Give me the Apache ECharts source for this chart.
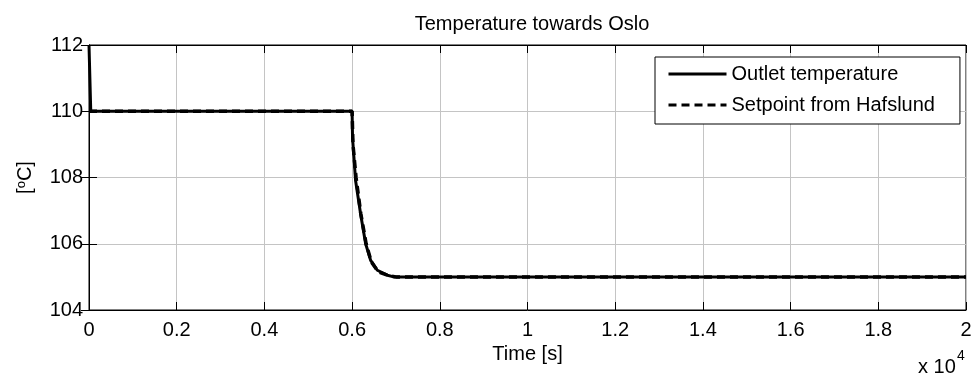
<!DOCTYPE html>
<html>
<head>
<meta charset="utf-8">
<script src="https://cdn.jsdelivr.net/npm/echarts@6/dist/echarts.min.js"></script>
<style>
html,body{margin:0;padding:0;background:#fff;}
#c{width:976px;height:381px;}
</style>
</head>
<body>
<div id="c"></div>
<script>
// Data (time in seconds, temperature in °C)
const outletTime = [0, 40, 6000, 6010, 6080, 6194, 6309, 6423, 6575, 6804, 6950, 20000];
const outletTemp = [112, 110, 110, 109.2, 107.9, 106.9, 106.0, 105.5, 105.2, 105.05, 105.0, 105.0];
const setpointTime = [0, 6000, 6020, 6090, 6200, 6320, 6440, 6600, 6850, 7000, 20000];
const setpointTemp = [110, 110, 109.0, 108.0, 106.9, 106.0, 105.45, 105.15, 105.03, 105.0, 105.0];
const seriesNames = ['Outlet temperature', 'Setpoint from Hafslund'];
const xTickValues = [0, 2000, 4000, 6000, 8000, 10000, 12000, 14000, 16000, 18000, 20000];
const yTickValues = [104, 106, 108, 110, 112];

const FONT = "'Liberation Sans', Arial, sans-serif";
const zip = (a, b) => a.map((v, i) => [v, b[i]]);

const chart = echarts.init(document.getElementById('c'), null, {renderer: 'canvas'});

const tickStyle = {show: true, inside: true, length: 8, lineStyle: {color: '#000', width: 1}};
const gridLine = {show: true, lineStyle: {color: '#c4c4c4', width: 1}};

chart.setOption({
  animation: false,
  backgroundColor: '#fff',
  textStyle: {fontFamily: FONT},
  title: {
    text: 'Temperature towards Oslo',
    left: 527, top: 9, textAlign: 'center',
    textStyle: {fontFamily: FONT, fontSize: 20, fontWeight: 'normal', color: '#000'}
  },
  grid: {left: 89, right: 10, top: 45, bottom: 71, show: true, borderColor: '#000', borderWidth: 1, backgroundColor: 'transparent'},
  legend: {
    orient: 'vertical', left: 655, top: 57,
    data: seriesNames,
    itemWidth: 58, itemHeight: 14, itemGap: 11,
    padding: [7, 25, 9, 12],
    borderColor: '#000', borderWidth: 1, backgroundColor: '#fff',
    itemStyle: {opacity: 0},
    lineStyle: {width: 3},
    textStyle: {fontFamily: FONT, fontSize: 20, color: '#000'}
  },
  xAxis: [{
    type: 'value', min: 0, max: 20000, interval: 2000,
    name: 'Time [s]', nameLocation: 'middle', nameGap: 34,
    nameTextStyle: {fontFamily: FONT, fontSize: 20, color: '#000'},
    axisLine: {show: true, lineStyle: {color: '#000'}},
    axisTick: tickStyle,
    axisLabel: {fontFamily: FONT, fontSize: 20, color: '#000', margin: 10,
      formatter: v => xTickValues.indexOf(v) >= 0 ? String(+(v / 10000).toFixed(1)) : ''},
    splitLine: gridLine
  }, {
    type: 'value', min: 0, max: 20000, interval: 2000, position: 'top',
    axisLine: {show: true, lineStyle: {color: '#000'}},
    axisTick: tickStyle, axisLabel: {show: false}, splitLine: {show: false}
  }],
  yAxis: [{
    type: 'value', min: 104, max: 112, interval: 2,
    name: '[{sup|o}C]', nameLocation: 'middle', nameGap: 54, nameRotate: 90,
    nameTextStyle: {fontFamily: FONT, fontSize: 20, color: '#000',
      rich: {sup: {fontFamily: FONT, fontSize: 13, color: '#000', verticalAlign: 'top', lineHeight: 20}}},
    axisLine: {show: true, lineStyle: {color: '#000'}},
    axisTick: tickStyle,
    axisLabel: {fontFamily: FONT, fontSize: 20, color: '#000', margin: 6,
      formatter: v => yTickValues.indexOf(v) >= 0 ? String(v) : ''},
    splitLine: gridLine
  }, {
    type: 'value', min: 104, max: 112, interval: 2, position: 'right',
    axisLine: {show: true, lineStyle: {color: '#000'}},
    axisTick: tickStyle, axisLabel: {show: false}, splitLine: {show: false}
  }],
  series: [{
    name: seriesNames[0], type: 'line', symbol: 'none', clip: true,
    data: zip(outletTime, outletTemp),
    lineStyle: {color: '#000', width: 3, type: 'solid'},
    itemStyle: {color: '#000'}, z: 3
  }, {
    name: seriesNames[1], type: 'line', symbol: 'none', clip: true,
    data: zip(setpointTime, setpointTemp),
    lineStyle: {color: '#000', width: 3.5, type: [8, 5]},
    itemStyle: {color: '#000'}, z: 4
  }],
  graphic: [
    {type: 'text', left: 918, top: 357, style: {text: 'x 10', font: '20px ' + FONT, fill: '#000'}},
    {type: 'text', left: 957, top: 349, style: {text: '4', font: '14px ' + FONT, fill: '#000'}}
  ]
});
</script>
</body>
</html>
